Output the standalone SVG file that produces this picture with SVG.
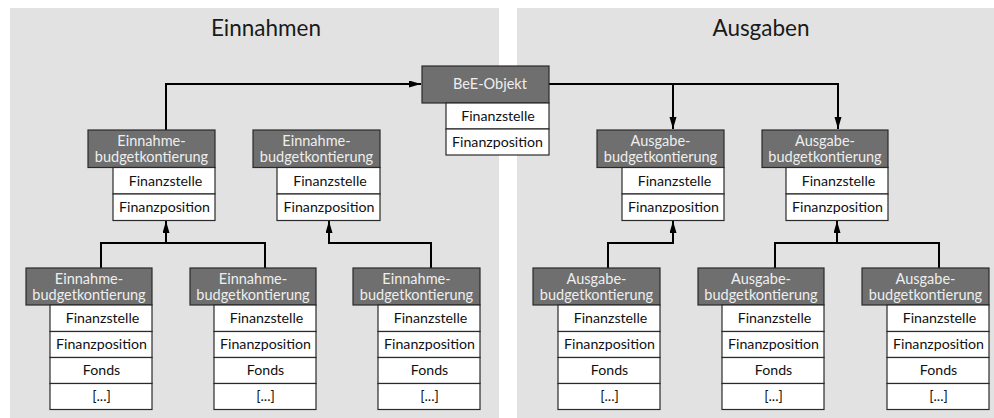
<svg xmlns="http://www.w3.org/2000/svg" width="994" height="418" viewBox="0 0 994 418">
<defs>
<style>
.panel{fill:#e2e2e2}
.title{font-family:Lato,"Liberation Sans",sans-serif;font-size:22.5px;fill:#1a1a1a;text-anchor:middle}
.hd{fill:#6f6f6f;stroke:#2a2a2a;stroke-width:1.2}
.row{fill:#ffffff;stroke:#2a2a2a;stroke-width:1.2}
.ht{font-family:Lato,"Liberation Sans",sans-serif;font-size:14.5px;fill:#eeeeee;text-anchor:middle}
.rt{font-family:Lato,"Liberation Sans",sans-serif;font-size:14.2px;fill:#111111;text-anchor:middle}
.con{fill:none;stroke:#000;stroke-width:2}
</style>
<marker id="arr" markerUnits="userSpaceOnUse" markerWidth="13" markerHeight="8" refX="12" refY="3.5" orient="auto">
<path d="M0,0 L12,3.5 L0,7 z" fill="#000"/>
</marker>
</defs>
<rect class="panel" x="10" y="8" width="489" height="410"/>
<rect class="panel" x="517" y="8" width="477" height="410"/>
<text class="title" x="266" y="35.5">Einnahmen</text>
<text class="title" x="761" y="35.5">Ausgaben</text>

<g id="connectors">
<path class="con" d="M166 130 V84 H421" marker-end="url(#arr)"/>
<path class="con" d="M549 84 H838 V129" marker-end="url(#arr)"/>
<path class="con" d="M673 84 V129" marker-end="url(#arr)"/>
<path class="con" d="M101 268 V243 H265 V268"/>
<path class="con" d="M166 243 V221" marker-end="url(#arr)"/>
<path class="con" d="M431 268 V243 H329 V221" marker-end="url(#arr)"/>
<path class="con" d="M608 268 V243 H673 V221" marker-end="url(#arr)"/>
<path class="con" d="M775 268 V243 H939 V268"/>
<path class="con" d="M837 243 V221" marker-end="url(#arr)"/>
</g>

<g id="bee">
<rect class="hd" x="422" y="66" width="127" height="37"/>
<text class="ht" x="490" y="89">BeE-Objekt</text>
<rect class="row" x="446" y="103" width="103" height="26"/>
<text class="rt" x="498" y="120.5">Finanzstelle</text>
<rect class="row" x="446" y="129" width="103" height="26"/>
<text class="rt" x="497.5" y="146.5">Finanzposition</text>
</g>

<g id="ein-mid1">
<rect class="hd" x="88" y="130" width="127" height="37.5"/>
<text class="ht" x="151.5" y="146">Einnahme-</text>
<text class="ht" x="151.5" y="161.5">budgetkontierung</text>
<rect class="row" x="113" y="167.5" width="102" height="26.5"/>
<text class="rt" x="165.5" y="185.5">Finanzstelle</text>
<rect class="row" x="113" y="194" width="102" height="26.5"/>
<text class="rt" x="164.5" y="212">Finanzposition</text>
</g>

<g id="ein-mid2">
<rect class="hd" x="253" y="130" width="127" height="37.5"/>
<text class="ht" x="316.5" y="146">Einnahme-</text>
<text class="ht" x="316.5" y="161.5">budgetkontierung</text>
<rect class="row" x="277" y="167.5" width="103" height="26.5"/>
<text class="rt" x="330" y="185.5">Finanzstelle</text>
<rect class="row" x="277" y="194" width="103" height="26.5"/>
<text class="rt" x="329" y="212">Finanzposition</text>
</g>

<g id="aus-mid1">
<rect class="hd" x="597" y="130" width="127" height="37.5"/>
<text class="ht" x="660.5" y="146">Ausgabe-</text>
<text class="ht" x="660.5" y="161.5">budgetkontierung</text>
<rect class="row" x="622" y="167.5" width="102" height="26.5"/>
<text class="rt" x="674.5" y="185.5">Finanzstelle</text>
<rect class="row" x="622" y="194" width="102" height="26.5"/>
<text class="rt" x="673.5" y="212">Finanzposition</text>
</g>

<g id="aus-mid2">
<rect class="hd" x="762" y="130" width="126" height="37.5"/>
<text class="ht" x="825" y="146">Ausgabe-</text>
<text class="ht" x="825" y="161.5">budgetkontierung</text>
<rect class="row" x="786" y="167.5" width="102" height="26.5"/>
<text class="rt" x="838.5" y="185.5">Finanzstelle</text>
<rect class="row" x="786" y="194" width="102" height="26.5"/>
<text class="rt" x="837.5" y="212">Finanzposition</text>
</g>

<g id="ein-a">
<rect class="hd" x="26" y="268" width="126" height="37"/>
<text class="ht" x="89" y="284">Einnahme-</text>
<text class="ht" x="89" y="299.5">budgetkontierung</text>
<rect class="row" x="50" y="305" width="102" height="26.5"/>
<text class="rt" x="102.5" y="323">Finanzstelle</text>
<rect class="row" x="50" y="331.5" width="102" height="26"/>
<text class="rt" x="101.5" y="349">Finanzposition</text>
<rect class="row" x="50" y="357.5" width="102" height="26"/>
<text class="rt" x="101.5" y="375">Fonds</text>
<rect class="row" x="50" y="383.5" width="102" height="26"/>
<text class="rt" x="101.5" y="401">[...]</text>
</g>

<g id="ein-b">
<rect class="hd" x="190" y="268" width="126" height="37"/>
<text class="ht" x="253" y="284">Einnahme-</text>
<text class="ht" x="253" y="299.5">budgetkontierung</text>
<rect class="row" x="214" y="305" width="102" height="26.5"/>
<text class="rt" x="266.5" y="323">Finanzstelle</text>
<rect class="row" x="214" y="331.5" width="102" height="26"/>
<text class="rt" x="265.5" y="349">Finanzposition</text>
<rect class="row" x="214" y="357.5" width="102" height="26"/>
<text class="rt" x="265.5" y="375">Fonds</text>
<rect class="row" x="214" y="383.5" width="102" height="26"/>
<text class="rt" x="265.5" y="401">[...]</text>
</g>

<g id="ein-c">
<rect class="hd" x="353" y="268" width="127" height="37"/>
<text class="ht" x="416.5" y="284">Einnahme-</text>
<text class="ht" x="416.5" y="299.5">budgetkontierung</text>
<rect class="row" x="378" y="305" width="102" height="26.5"/>
<text class="rt" x="430.5" y="323">Finanzstelle</text>
<rect class="row" x="378" y="331.5" width="102" height="26"/>
<text class="rt" x="429.5" y="349">Finanzposition</text>
<rect class="row" x="378" y="357.5" width="102" height="26"/>
<text class="rt" x="429.5" y="375">Fonds</text>
<rect class="row" x="378" y="383.5" width="102" height="26"/>
<text class="rt" x="429.5" y="401">[...]</text>
</g>

<g id="aus-d">
<rect class="hd" x="533" y="268" width="127" height="37"/>
<text class="ht" x="596.5" y="284">Ausgabe-</text>
<text class="ht" x="596.5" y="299.5">budgetkontierung</text>
<rect class="row" x="558" y="305" width="102" height="26.5"/>
<text class="rt" x="610.5" y="323">Finanzstelle</text>
<rect class="row" x="558" y="331.5" width="102" height="26"/>
<text class="rt" x="609.5" y="349">Finanzposition</text>
<rect class="row" x="558" y="357.5" width="102" height="26"/>
<text class="rt" x="609.5" y="375">Fonds</text>
<rect class="row" x="558" y="383.5" width="102" height="26"/>
<text class="rt" x="609.5" y="401">[...]</text>
</g>

<g id="aus-e">
<rect class="hd" x="698" y="268" width="126" height="37"/>
<text class="ht" x="761" y="284">Ausgabe-</text>
<text class="ht" x="761" y="299.5">budgetkontierung</text>
<rect class="row" x="722" y="305" width="102" height="26.5"/>
<text class="rt" x="774.5" y="323">Finanzstelle</text>
<rect class="row" x="722" y="331.5" width="102" height="26"/>
<text class="rt" x="773.5" y="349">Finanzposition</text>
<rect class="row" x="722" y="357.5" width="102" height="26"/>
<text class="rt" x="773.5" y="375">Fonds</text>
<rect class="row" x="722" y="383.5" width="102" height="26"/>
<text class="rt" x="773.5" y="401">[...]</text>
</g>

<g id="aus-f">
<rect class="hd" x="862" y="268" width="127" height="37"/>
<text class="ht" x="925.5" y="284">Ausgabe-</text>
<text class="ht" x="925.5" y="299.5">budgetkontierung</text>
<rect class="row" x="887" y="305" width="102" height="26.5"/>
<text class="rt" x="939.5" y="323">Finanzstelle</text>
<rect class="row" x="887" y="331.5" width="102" height="26"/>
<text class="rt" x="938.5" y="349">Finanzposition</text>
<rect class="row" x="887" y="357.5" width="102" height="26"/>
<text class="rt" x="938.5" y="375">Fonds</text>
<rect class="row" x="887" y="383.5" width="102" height="26"/>
<text class="rt" x="938.5" y="401">[...]</text>
</g>
</svg>
